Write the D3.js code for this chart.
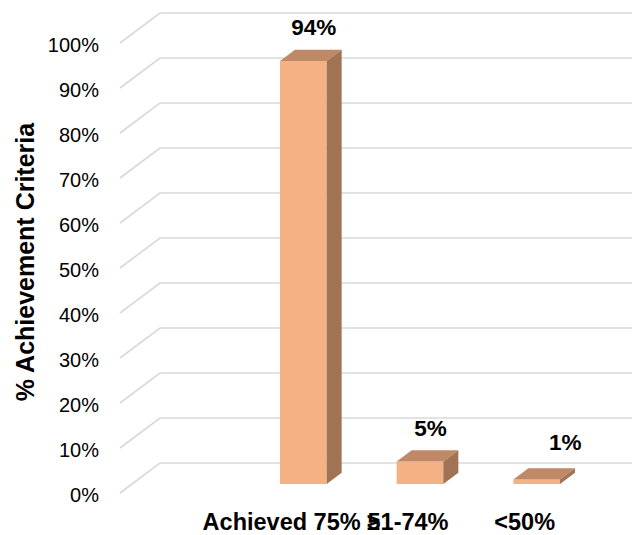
<!DOCTYPE html>
<html>
<head>
<meta charset="utf-8">
<script src="https://cdn.jsdelivr.net/npm/d3@7"></script>
<style>
  html, body { margin: 0; padding: 0; background: #fff; }
  svg { display: block; font-family: "Liberation Sans", Arial, sans-serif; }
</style>
</head>
<body>
<div id="chart"></div>
<script>
// achievement bands and share of cases in each
const categories = ["Achieved 75% \u2265", "51-74%", "<50%"];
const shares = [0.94, 0.05, 0.01];
const tickValues = [0, 0.1, 0.2, 0.3, 0.4, 0.5, 0.6, 0.7, 0.8, 0.9, 1.0];

const width = 632, height = 535;

// front plane of the 3D box and the depth offset of the back wall
const frontLeft = 120, frontRight = 632,
  frontTop = 43, frontBottom = 493,
  depthX = 40, depthY = 30;

// bars sit partway into the box
const barFront = 0.3, barBack = 0.675;

// hand nudges for labels that Excel had been moved around
const labelNudge = { "<50%": [18, -4] };

const colors = {
  grid: "#d9d9d9",
  front: "#f4b183",
  top: "#bf8866",
  side: "#9f7354"
};

const svg = d3.select("#chart").append("svg")
  .attr("width", width)
  .attr("height", height);

const y = d3.scaleLinear()
  .domain([0, 1])
  .range([frontBottom, frontTop]);

const x = d3.scaleBand()
  .domain(categories)
  .range([233, 583])
  .paddingInner(0.6)
  .paddingOuter(0.3);

// project a front-plane point back by a depth fraction
const proj = (px, py, depth) => [px + depth * depthX, py - depth * depthY];

// ----------------------------------
// GRIDLINES: floor diagonal + back wall
// ----------------------------------
const grid = svg.append("g").classed("grid", true);

tickValues.forEach(t => {
  const [bx, by] = proj(frontLeft, y(t), 1);
  grid.append("path")
    .attr("d", `M${frontLeft},${y(t)}L${bx},${by}L${frontRight + depthX},${by}`)
    .attr("fill", "none")
    .attr("stroke", colors.grid)
    .attr("stroke-width", 1.6);
});

// ----------------------------------
// BARS
// ----------------------------------
const bars = svg.append("g").classed("bars", true);

categories.forEach((c, i) => {
  const x0 = x(c), x1 = x(c) + x.bandwidth();
  const v = shares[i];
  const fbl = proj(x0, y(0), barFront), fbr = proj(x1, y(0), barFront);
  const ftl = proj(x0, y(v), barFront), ftr = proj(x1, y(v), barFront);
  const btl = proj(x0, y(v), barBack), btr = proj(x1, y(v), barBack);
  const bbr = proj(x1, y(0), barBack);

  const g = bars.append("g");
  g.append("path")
    .attr("d", `M${fbl}L${fbr}L${ftr}L${ftl}Z`)
    .attr("fill", colors.front);
  g.append("path")
    .attr("d", `M${ftl}L${ftr}L${btr}L${btl}Z`)
    .attr("fill", colors.top);
  g.append("path")
    .attr("d", `M${fbr}L${bbr}L${btr}L${ftr}Z`)
    .attr("fill", colors.side);

  // value label above the middle of the top face
  const mid = proj(x0 + x.bandwidth() / 2, y(v), (barFront + barBack) / 2);
  const nudge = labelNudge[c] || [0, 0];
  bars.append("text")
    .classed("bar-label", true)
    .text(d3.format(".0%")(v))
    .attr("x", mid[0] + 3 + nudge[0])
    .attr("y", mid[1] - 20 + nudge[1])
    .attr("text-anchor", "middle")
    .style("font-size", "22.5px")
    .style("font-weight", "bold")
    .style("fill", "#000");
});

// ----------------------------------
// AXES
// ----------------------------------
const yAxis = d3.axisLeft(y)
  .tickValues(tickValues)
  .tickFormat(d3.format(".0%"))
  .tickSize(0)
  .tickPadding(21);

svg.append("g")
  .classed("axis y", true)
  .attr("transform", `translate(${frontLeft},0)`)
  .call(yAxis)
  .call(g => g.select(".domain").remove())
  .selectAll("text")
    .style("font-family", "'Liberation Sans', Arial, sans-serif")
    .style("font-size", "20px")
    .style("fill", "#000")
    .attr("dy", "0.4em");

const xAxis = d3.axisBottom(x)
  .tickSize(0)
  .tickPadding(20);

svg.append("g")
  .classed("axis x", true)
  .attr("transform", `translate(0,${frontBottom})`)
  .call(xAxis)
  .call(g => g.select(".domain").remove())
  .selectAll("text")
    .style("font-family", "'Liberation Sans', Arial, sans-serif")
    .style("font-size", "23.5px")
    .style("font-weight", "bold")
    .style("fill", "#000");

// y axis title
svg.append("text")
  .text("% Achievement Criteria")
  .attr("transform", `translate(34,${(frontTop + frontBottom) / 2 - 6}) rotate(-90)`)
  .attr("text-anchor", "middle")
  .style("font-size", "25px")
  .style("font-weight", "bold")
  .style("fill", "#000");
</script>
</body>
</html>
